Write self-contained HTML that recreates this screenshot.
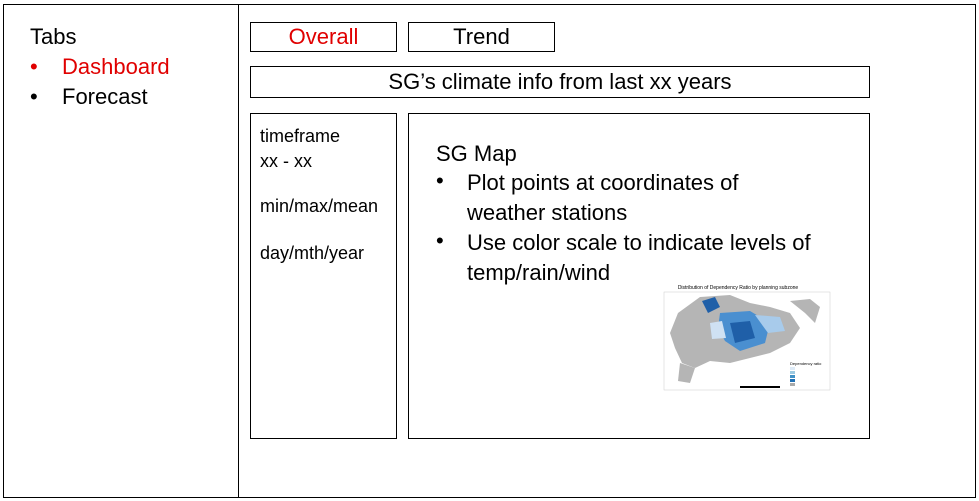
<!DOCTYPE html>
<html><head><meta charset="utf-8">
<style>
body{margin:0;width:979px;height:501px;background:#fff;font-family:"Liberation Sans",sans-serif;position:relative;overflow:hidden;color:#000}
.b{position:absolute;border:1px solid #000;box-sizing:border-box}
.t{position:absolute;white-space:nowrap}
</style></head><body>
<div class="b" style="left:3px;top:4px;width:973px;height:494px"></div>
<div class="b" style="left:238px;top:4px;width:1px;height:494px;border:none;background:#000"></div>
<div class="t" style="left:30px;top:24px;font-size:22px">Tabs</div>
<div class="t" style="left:30px;top:54px;font-size:22px;color:#e00000">•</div>
<div class="t" style="left:62px;top:54px;font-size:22px;color:#e00000">Dashboard</div>
<div class="t" style="left:30px;top:84px;font-size:22px">•</div>
<div class="t" style="left:62px;top:84px;font-size:22px">Forecast</div>
<div class="b" style="left:250px;top:22px;width:147px;height:30px;text-align:center;line-height:28px;font-size:22px;color:#e00000">Overall</div>
<div class="b" style="left:408px;top:22px;width:147px;height:30px;text-align:center;line-height:28px;font-size:22px">Trend</div>
<div class="b" style="left:250px;top:66px;width:620px;height:32px;text-align:center;line-height:30px;font-size:22px">SG’s climate info from last xx years</div>
<div class="b" style="left:250px;top:113px;width:147px;height:326px"></div>
<div class="t" style="left:260px;top:126px;font-size:18px">timeframe</div>
<div class="t" style="left:260px;top:151px;font-size:18px">xx - xx</div>
<div class="t" style="left:260px;top:196px;font-size:18px">min/max/mean</div>
<div class="t" style="left:260px;top:243px;font-size:18px">day/mth/year</div>
<div class="b" style="left:408px;top:113px;width:462px;height:326px"></div>
<div class="t" style="left:436px;top:141px;font-size:22px">SG Map</div>
<div class="t" style="left:436px;top:168px;font-size:22px">•</div>
<div class="t" style="left:467px;top:168px;font-size:22px;line-height:30px">Plot points at coordinates of<br>weather stations</div>
<div class="t" style="left:436px;top:228px;font-size:22px">•</div>
<div class="t" style="left:467px;top:228px;font-size:22px;line-height:30px">Use color scale to indicate levels of<br>temp/rain/wind</div>
<svg style="position:absolute;left:640px;top:283px" width="196" height="120" viewBox="0 0 196 120">
<text x="98" y="6" font-size="5" text-anchor="middle" font-family="Liberation Sans">Distribution of Dependency Ratio by planning subzone</text>
<rect x="24" y="9" width="166" height="98" fill="#fff" stroke="#ccc" stroke-width="0.5"/>
<path d="M38 30 L60 14 L90 12 L110 20 L130 24 L150 30 L160 45 L150 60 L130 70 L110 75 L90 80 L70 78 L55 85 L42 80 L35 65 L30 50 Z" fill="#b5b5b5"/>
<path d="M150 18 L170 16 L180 24 L175 40 L165 30 Z" fill="#b5b5b5"/>
<path d="M40 80 L55 85 L50 100 L38 98 Z" fill="#b5b5b5"/>
<path d="M62 18 L75 14 L80 24 L68 30 Z" fill="#1f5fa8"/>
<path d="M80 30 L110 28 L130 40 L125 60 L100 68 L85 58 L78 45 Z" fill="#4a8fd0"/>
<path d="M90 40 L110 38 L115 55 L95 60 Z" fill="#1f5fa8"/>
<path d="M115 32 L140 34 L145 48 L128 50 Z" fill="#a8cbeb"/>
<path d="M70 40 L82 38 L86 55 L72 56 Z" fill="#cfe1f3"/>
<rect x="148" y="78" width="38" height="25" fill="#fff"/>
<rect x="150" y="84" width="5" height="3" fill="#deebf7"/><rect x="150" y="88" width="5" height="3" fill="#9ecae1"/><rect x="150" y="92" width="5" height="3" fill="#4292c6"/><rect x="150" y="96" width="5" height="3" fill="#2171b5"/><rect x="150" y="100" width="5" height="3" fill="#aaa"/>
<text x="150" y="82" font-size="4" font-family="Liberation Sans">Dependency ratio</text>
<rect x="100" y="103" width="40" height="2" fill="#000"/>
</svg>
</body></html>
